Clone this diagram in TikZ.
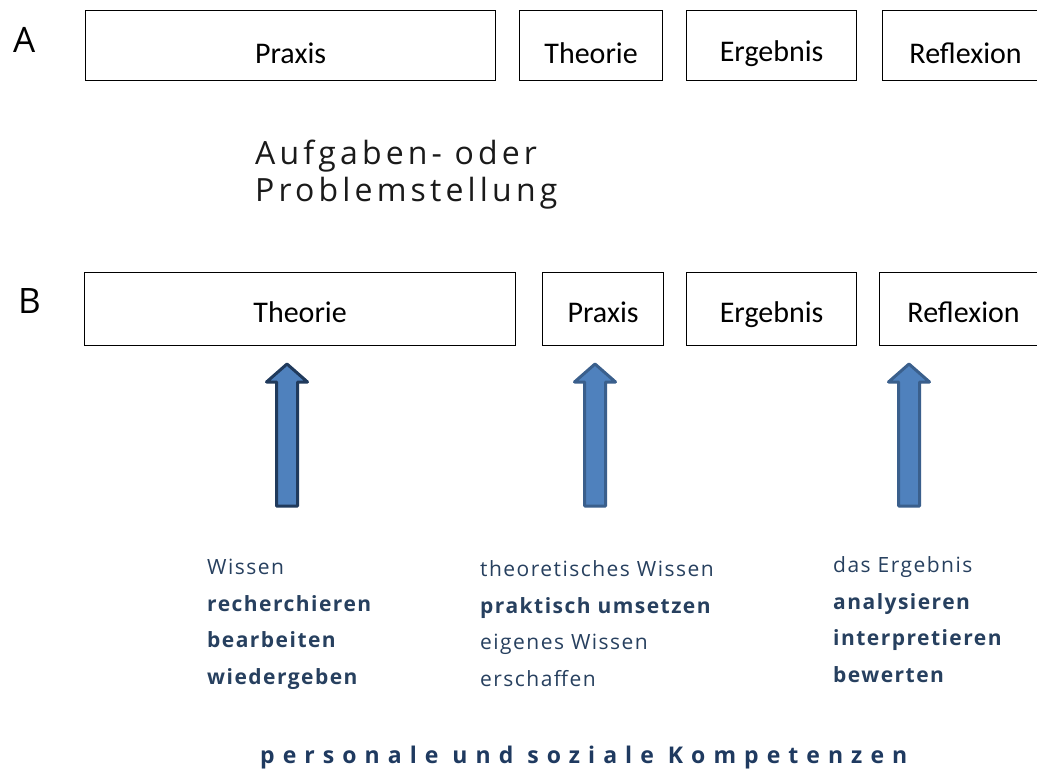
\documentclass[tikz,border=0pt]{standalone}
\usepackage{fontspec}
\setmainfont{Open Sans}
\newfontfamily\calibrifont{Carlito}
\newfontfamily\spacedfont[LetterSpace=13]{Open Sans}
\newfontfamily\trackfont[LetterSpace=7]{Open Sans}
\newfontfamily\widefont[LetterSpace=35]{Open Sans}
\definecolor{textblue}{HTML}{27405F}
\definecolor{kompblue}{HTML}{1F3A60}
\definecolor{taskgrey}{HTML}{1A1A1A}
\definecolor{arrowfill}{HTML}{4F81BD}
\definecolor{arrowdark}{HTML}{203A5C}
\definecolor{arrowline}{HTML}{3A5F8C}

\begin{document}
\begin{tikzpicture}[x=1pt, y=-1pt,
    phasebox/.style = {draw, line width=1.2pt, inner sep=0pt, anchor=north west, font=\calibrifont\fontsize{30}{36}\selectfont},
    rowA/.style = {phasebox, text height=53pt, text depth=17pt},
    rowB/.style = {phasebox, text height=50pt, text depth=23pt},
    letter/.style = {anchor=base west, inner sep=0pt, font=\fontsize{35}{42}\selectfont},
    skill/.style = {anchor=base west, inner sep=0pt, align=left, text=textblue, font=\trackfont\fontsize{21}{36.5}\selectfont},
    blockarrow/.style = {fill=arrowfill, line width=3pt, line join=round}]
    \useasboundingbox (0,0) rectangle (1037,773);
    \clip (0,0) rectangle (1037,773);
    \fill[white] (0,0) rectangle (1037,773);

    \node (A) at (13,53) [letter] {A};
    \node (pA) at (85,10) [rowA, minimum width=410pt] {Praxis};
    \node (tA) at (519,10) [rowA, minimum width=143pt] {Theorie};
    \node (eA) at (686,10) [rowA, minimum width=170pt, text height=51pt, text depth=19pt] {Ergebnis};
    \node (rA) at (882,10) [rowA, minimum width=166pt] {Reflexion};

    % base anchor of a multi-line node sits on its last line
    \node (task) at (255,202) [anchor=base west, inner sep=0pt, align=left, text=taskgrey, font=\spacedfont\fontsize{32}{37}\selectfont] {Aufgaben- oder\\Problemstellung};

    \node (B) at (18,313) [letter] {B};
    \node (tB) at (84,272) [rowB, minimum width=431pt] {Theorie};
    \node (pB) at (542,272) [rowB, minimum width=121pt] {Praxis};
    \node (eB) at (686,272) [rowB, minimum width=170pt] {Ergebnis};
    \node (rB) at (879,272) [rowB, minimum width=168pt] {Reflexion};

    \foreach \x/\c in {287/arrowdark, 595/arrowline, 909/arrowline}
        \draw[blockarrow, draw=\c] ({\x-10.5},506) -- ({\x+10.5},506) -- ({\x+10.5},382) -- ({\x+20.5},382)
            -- (\x,364) -- ({\x-20.5},382) -- ({\x-10.5},382) -- cycle;

    \node (wissen) at (207,684) [skill] {Wissen\\\textbf{recherchieren}\\\textbf{bearbeiten}\\\textbf{wiedergeben}};
    \node (umsetzen) at (480,686) [skill] {theoretisches Wissen\\\textbf{praktisch umsetzen}\\eigenes Wissen\\erschaffen};
    \node (bewerten) at (833,682) [skill] {das Ergebnis\\\textbf{analysieren}\\\textbf{interpretieren}\\\textbf{bewerten}};

    \node (komp) at (260,763) [anchor=base west, inner sep=0pt, text=kompblue, font=\widefont\bfseries\fontsize{23}{27}\selectfont] {personale und soziale Kompetenzen};
\end{tikzpicture}
\end{document}
